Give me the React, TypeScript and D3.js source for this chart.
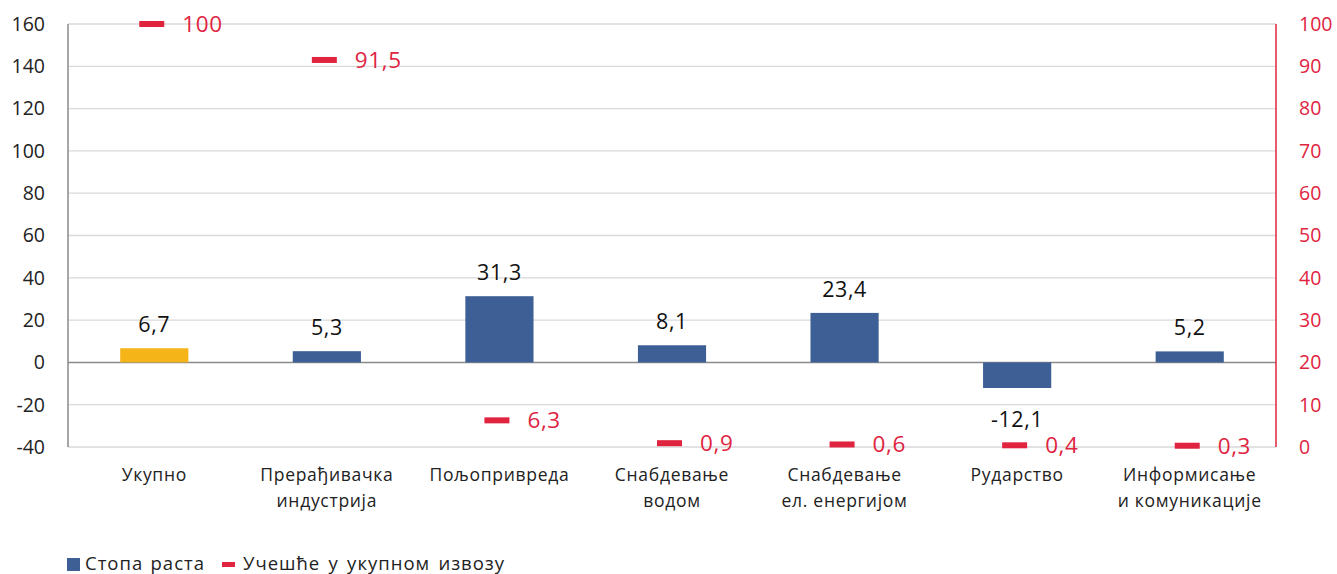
import React from "react";
import * as d3 from "d3";

const categories: string[][] = [
  ["Укупно"],
  ["Прерађивачка", "индустрија"],
  ["Пољопривреда"],
  ["Снабдевање", "водом"],
  ["Снабдевање", "ел. енергијом"],
  ["Рударство"],
  ["Информисање", "и комуникације"],
];
const growth = [6.7, 5.3, 31.3, 8.1, 23.4, -12.1, 5.2];
const share = [100, 91.5, 6.3, 0.9, 0.6, 0.4, 0.3];
const leftTicks = [-40, -20, 0, 20, 40, 60, 80, 100, 120, 140, 160];
const rightTicks = [0, 10, 20, 30, 40, 50, 60, 70, 80, 90, 100];
const legendLabels = ["Стопа раста", "Учешће у укупном извозу"];

const W = 1337, H = 574;
const left = 68, right = 1276, top = 24, bottom = 447;
const FONT = "'Open Sans', 'Noto Sans', sans-serif";
const BLUE = "#3D5F96";
const YELLOW = "#F5B518";
const RED = "#E0243F";
const fmt = (v: number) => (Number.isInteger(v) ? String(v) : v.toFixed(1).replace(".", ","));

export default function App() {
  const x = d3.scaleBand<number>().domain(d3.range(categories.length)).range([left, right]).paddingInner(0).paddingOuter(0);
  const y = d3.scaleLinear().domain([-40, 160]).range([bottom, top]);
  const y2 = d3.scaleLinear().domain([0, 100]).range([bottom, top]);
  const bw = x.bandwidth() * 0.395;
  const cx = (i: number) => (x(i) as number) + x.bandwidth() / 2;

  return (
    <div style={{ position: "absolute", left: 0, top: 0 }}>
      <svg width={W} height={H} style={{ display: "block", fontFamily: FONT }}>
        <rect width={W} height={H} fill="#fff" />
        {leftTicks.map((t) => (
          <line key={"g" + t} x1={left} x2={right} y1={y(t)} y2={y(t)} stroke={t === 0 ? "#8a8a8a" : "#d9d9d9"} strokeWidth={t === 0 ? 1.5 : 1.3} />
        ))}
        <line x1={left} x2={left} y1={top} y2={bottom} stroke="#8a8a8a" strokeWidth={1.5} />
        <line x1={right} x2={right} y1={top} y2={bottom} stroke={RED} strokeWidth={1.5} />
        {leftTicks.map((t) => (
          <text key={"l" + t} x={45} y={y(t)} dy="0.35em" textAnchor="end" fontSize={19.5} fill="#222">
            {t}
          </text>
        ))}
        {rightTicks.map((t) => (
          <text key={"r" + t} x={1299} y={y2(t)} dy="0.35em" textAnchor="start" fontSize={19.5} fill={RED}>
            {t}
          </text>
        ))}
        {growth.map((v, i) => (
          <rect key={"b" + i} x={cx(i) - bw / 2} width={bw} y={y(Math.max(0, v))} height={Math.abs(y(v) - y(0))} fill={i === 0 ? YELLOW : BLUE} />
        ))}
        {growth.map((v, i) => (
          <text key={"bl" + i} x={cx(i)} y={v >= 0 ? y(v) - 16 : y(v) + 39} textAnchor="middle" fontSize={21.5} letterSpacing={0.6} fill="#111">
            {fmt(v)}
          </text>
        ))}
        {share.map((v, i) => (
          <rect key={"m" + i} x={cx(i) - 15} width={25} y={y2(v) - 3} height={6} fill={RED} />
        ))}
        {share.map((v, i) => (
          <text key={"ml" + i} x={cx(i) + 28} y={y2(v)} dy="0.35em" fontSize={22.5} letterSpacing={0.6} fill={RED}>
            {fmt(v)}
          </text>
        ))}
        {categories.map((lines, i) => (
          <text key={"c" + i} x={cx(i)} textAnchor="middle" fontSize={17.5} letterSpacing={0.7} fill="#222">
            {lines.map((ln, k) => (
              <tspan key={k} x={cx(i)} y={481 + k * 26}>
                {ln}
              </tspan>
            ))}
          </text>
        ))}
        <rect x={67} y={558} width={13} height={13} fill={BLUE} />
        <text x={85} y={570} fontSize={18.5} letterSpacing={1} wordSpacing={1.5} fill="#222">{legendLabels[0]}</text>
        <rect x={222} y={562} width={13} height={5} fill={RED} />
        <text x={243} y={570} fontSize={18.5} letterSpacing={1} wordSpacing={2.5} fill="#222">{legendLabels[1]}</text>
      </svg>
    </div>
  );
}
